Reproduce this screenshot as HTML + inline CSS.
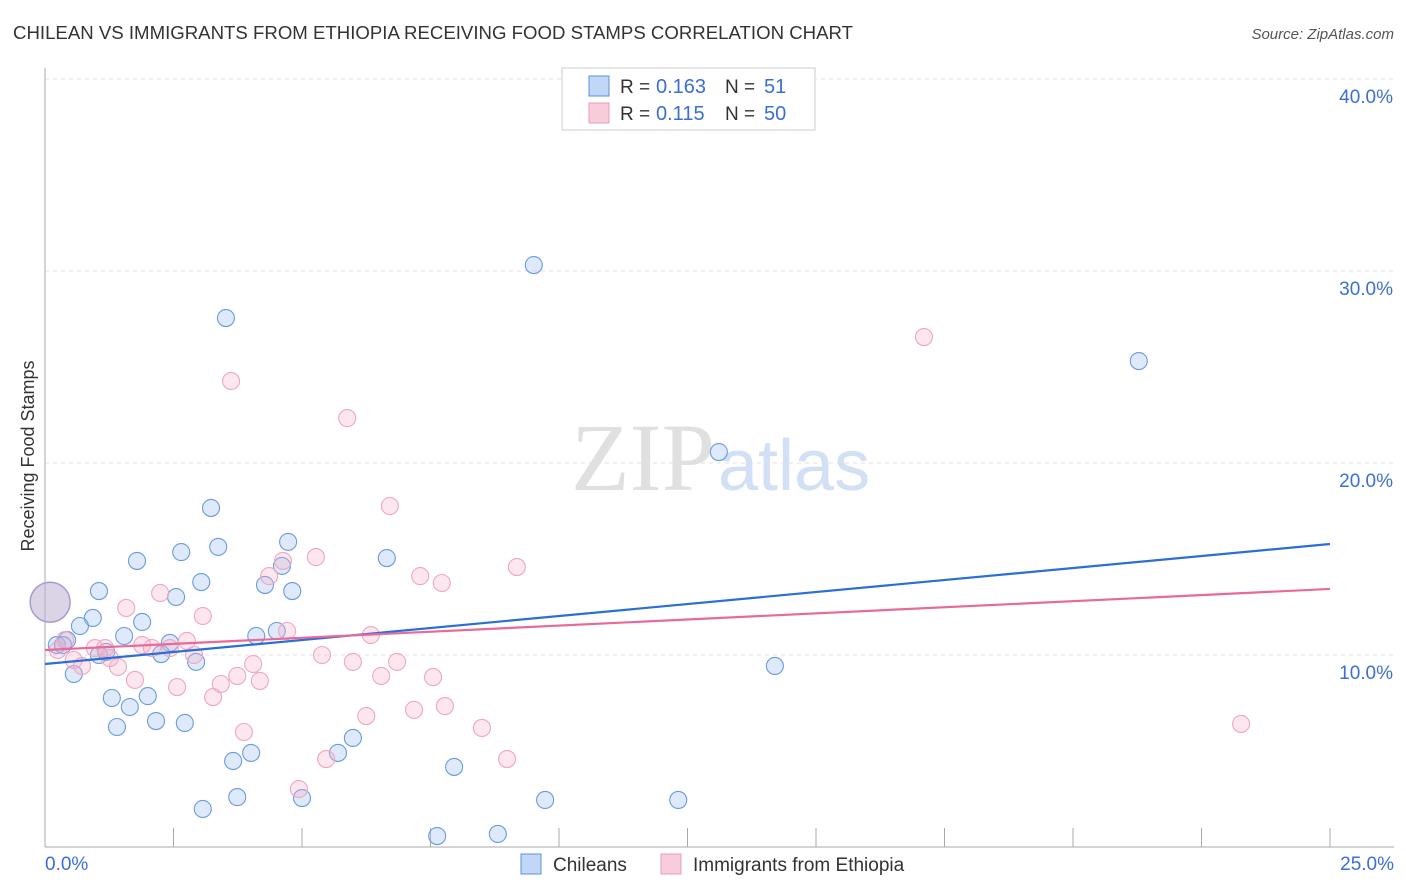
<!DOCTYPE html>
<html><head><meta charset="utf-8"><style>
body{margin:0;background:#fff;font-family:"Liberation Sans",sans-serif;}
#wrap{position:relative;width:1406px;height:892px;overflow:hidden}
</style></head><body>
<div id="wrap">
<svg id="svg" width="1406" height="892"></svg>
</div>
<script>
const blueX=[],blueY=[],pinkX=[],pinkY=[];
const bluePx=[[534,265],[226,318],[1139,361],[719,452],[211,508],[288,542],[218,547],[181,552],[387,558],[137,561],[282,566],[201,582],[265,585],[292,591],[99,591],[176,597],[93,618],[142,622],[80,626],[124,636],[256,636],[277,631],[170,643],[67,640],[57,645],[99,655],[161,654],[196,662],[775,666],[74,674],[112,698],[148,696],[130,707],[156,721],[185,723],[117,727],[353,738],[251,753],[338,753],[233,761],[454,767],[237,797],[302,798],[545,800],[678,800],[203,809],[437,836],[498,834],[106,652],[63,645]];
const pinkPx=[[924,337],[231,381],[347,418],[390,506],[316,557],[517,567],[283,561],[269,576],[420,576],[442,583],[160,593],[126,608],[203,616],[287,631],[371,635],[187,641],[170,648],[142,645],[95,648],[152,648],[322,655],[194,655],[110,658],[74,660],[118,667],[253,664],[82,666],[353,662],[397,662],[237,676],[381,676],[433,677],[260,681],[135,680],[221,684],[177,687],[213,697],[445,706],[414,710],[366,716],[244,732],[482,728],[1241,724],[507,759],[326,759],[299,789],[65,640],[105,648],[58,650]];
// data values (percent)
bluePx.forEach(p=>{blueX.push(+((p[0]-45)/1285*25).toFixed(2));blueY.push(+((847-p[1])/19.2).toFixed(2));});
pinkPx.forEach(p=>{pinkX.push(+((p[0]-45)/1285*25).toFixed(2));pinkY.push(+((847-p[1])/19.2).toFixed(2));});
const bigX=[0.1], bigY=[12.75];
const blueTrend=[9.53,15.78], pinkTrend=[10.26,13.44];
const yTicks=[10,20,30,40];
const xTickLabels=["0.0%","25.0%"];

const X=v=>45+v/25*1285, Y=v=>847-v*19.2;
const svg=document.getElementById('svg');
const NS='http://www.w3.org/2000/svg';
function mk(t,a,txt){const e=document.createElementNS(NS,t);for(const k in a)e.setAttribute(k,a[k]);if(txt!==undefined)e.textContent=txt;svg.appendChild(e);return e;}
let e;
e=mk('text',{x:13,y:39,'font-size':18,fill:'#333',textLength:840,lengthAdjust:'spacingAndGlyphs'},'CHILEAN VS IMMIGRANTS FROM ETHIOPIA RECEIVING FOOD STAMPS CORRELATION CHART');


e=mk('text',{x:1394,y:39,'font-size':15,fill:'#555','text-anchor':'end','font-style':'italic'},'Source: ZipAtlas.com');


yTicks.forEach(t=>{
 e=mk('line',{x1:45,x2:1394,y1:Y(t),y2:Y(t),stroke:'#e2e2e2','stroke-dasharray':'4,4'});
 
 
 e=mk('text',{x:1393,y:Y(t)+24,'font-size':19,fill:'#3b6fd4','text-anchor':'end'},t.toFixed(1)+'%');
 
 
});
e=mk('line',{x1:45,x2:45,y1:68,y2:847,stroke:'#aaa'});


e=mk('line',{x1:45,x2:1394,y1:847,y2:847,stroke:'#aaa'});


for(let i=1;i<=10;i++){
 e=mk('line',{x1:X(i*2.5),x2:X(i*2.5),y1:828,y2:847,stroke:'#aaa'});
 
 
}
e=mk('text',{x:45,y:870,'font-size':19,fill:'#3b6fd4'},xTickLabels[0]);


e=mk('text',{x:1394,y:870,'font-size':19,fill:'#3b6fd4','text-anchor':'end'},xTickLabels[1]);


e=mk('text',{x:34,y:456,'font-size':18,fill:'#333','text-anchor':'middle',transform:'rotate(-90 34 456)'},'Receiving Food Stamps');


e=mk('text',{x:715,y:490,'font-size':96,fill:'#e0e0e0','text-anchor':'end','font-family':'Liberation Serif, serif'},'ZIP');


e=mk('text',{x:718,y:490,'font-size':72,fill:'#d2e0f5'},'atlas');


bigX.forEach((v,i)=>{
 e=mk('circle',{cx:X(v),cy:Y(bigY[i]),r:20,fill:'rgba(190,175,210,0.55)',stroke:'#a99bd0','stroke-width':1.5});
 
 
});
blueX.forEach((v,i)=>{
 e=mk('circle',{cx:X(v),cy:Y(blueY[i]),r:8.5,fill:'rgba(160,195,240,0.35)',stroke:'#6a9ade','stroke-width':1.1});
 
 
});
pinkX.forEach((v,i)=>{
 e=mk('circle',{cx:X(v),cy:Y(pinkY[i]),r:8.5,fill:'rgba(245,175,198,0.3)',stroke:'#efa6bf','stroke-width':1.1});
 
 
});
e=mk('line',{x1:X(0),x2:X(25),y1:Y(blueTrend[0]),y2:Y(blueTrend[1]),stroke:'#2a6fd6','stroke-width':2.2});


e=mk('line',{x1:X(0),x2:X(25),y1:Y(pinkTrend[0]),y2:Y(pinkTrend[1]),stroke:'#e8699a','stroke-width':2.2});


// legend
e=mk('rect',{x:562,y:68,width:253,height:62,fill:'#fff',stroke:'#ccc'});


[[86,'rgba(150,190,240,0.6)','#5b8fdc','0.163','51'],[113,'rgba(245,170,195,0.6)','#ec9ab5','0.115','50']].forEach(r=>{
 e=mk('rect',{x:589,y:r[0]-10,width:20,height:20,fill:r[1],stroke:r[2]});
 
 
 e=mk('text',{x:620,y:r[0]+7,'font-size':19,fill:'#333'},'R = ');
 
 
 e=mk('text',{x:656,y:r[0]+7,'font-size':20,fill:'#3b6fd4'},r[3]);
 
 
 e=mk('text',{x:725,y:r[0]+7,'font-size':19,fill:'#333'},'N = ');
 
 
 e=mk('text',{x:764,y:r[0]+7,'font-size':20,fill:'#3b6fd4'},r[4]);
 
 
});
[[521,'rgba(150,190,240,0.6)','#5b8fdc','Chileans'],[661,'rgba(245,170,195,0.6)','#ec9ab5','Immigrants from Ethiopia']].forEach(r=>{
 e=mk('rect',{x:r[0],y:854,width:20,height:20,fill:r[1],stroke:r[2]});
 
 
 e=mk('text',{x:r[0]+32,y:871,'font-size':19,fill:'#333'},r[3]);
 
 
});
</script>
</body></html>
